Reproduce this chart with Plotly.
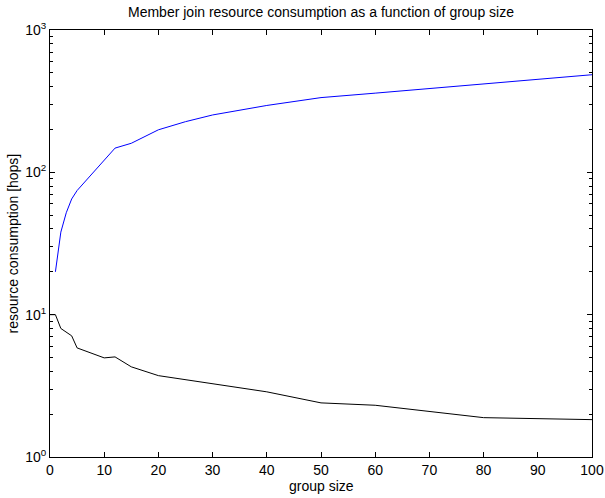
import plotly.graph_objects as go

# group sizes and series
blue_x = [1, 2, 3, 4, 5, 10, 12, 15, 20, 25, 30, 40, 50, 60, 80, 100]
blue_y = [20, 38, 52, 65, 74.5, 122, 148, 160, 199, 227, 253, 295, 335, 360, 420, 485]

black_x = [0, 1, 2, 3, 4, 5, 10, 12, 15, 20, 25, 30, 40, 50, 60, 80, 100]
black_y = [10, 10, 8.0, 7.5, 7.1, 5.84, 4.97, 5.05, 4.3, 3.73, 3.49, 3.27, 2.87, 2.40, 2.31, 1.89, 1.83]

x_ticks = [0, 10, 20, 30, 40, 50, 60, 70, 80, 90, 100]
y_ticks = [1, 10, 100, 1000]
y_ticktext = ["10<sup>0</sup>", "10<sup>1</sup>", "10<sup>2</sup>", "10<sup>3</sup>"]
y_minor = [m * d for d in (1, 10, 100) for m in range(2, 10)]

title_text = "Member join resource consumption as a function of group size"
x_title = "group size"
y_title = "resource consumption [hops]"

fig = go.Figure()
fig.add_trace(go.Scatter(x=blue_x, y=blue_y, mode="lines",
                         line=dict(color="#0000ff", width=1), showlegend=False))
fig.add_trace(go.Scatter(x=black_x, y=black_y, mode="lines",
                         line=dict(color="#000000", width=1), showlegend=False))

font = dict(family="Liberation Sans, Arial, sans-serif", size=14, color="black")

W, H = 605, 498
fig.update_layout(
    width=W, height=H,
    margin=dict(l=50, r=13, t=30, b=41, autoexpand=False),
    paper_bgcolor="white", plot_bgcolor="white",
    font=font,
    title=dict(text=title_text, x=0.5, xref="paper", y=1 - 12 / H, yref="container",
               yanchor="middle", xanchor="center", font=font, automargin=False),
    annotations=[
        dict(text=x_title, xref="paper", yref="paper", x=0.5, y=0, yshift=-29,
             xanchor="center", yanchor="middle", showarrow=False, font=font),
        dict(text=y_title, xref="paper", yref="paper", x=0, y=0.5, xshift=-38,
             xanchor="center", yanchor="middle", textangle=-90, showarrow=False, font=font),
    ],
)
fig.update_xaxes(
    range=[0, 100], tickvals=x_ticks, ticks="inside", ticklen=5, tickwidth=1,
    tickcolor="black", showline=True, linecolor="black", linewidth=1,
    mirror="ticks", showgrid=False, zeroline=False, automargin=False,
    ticklabeloverflow="allow",
)
fig.update_yaxes(
    type="log", range=[0, 3], tickvals=y_ticks, ticktext=y_ticktext,
    ticks="inside", ticklen=5, tickwidth=1, tickcolor="black",
    showline=True, linecolor="black", linewidth=1, mirror="ticks",
    showgrid=False, zeroline=False, automargin=False,
    minor=dict(tickvals=y_minor, ticks="inside", ticklen=3, tickcolor="black", showgrid=False),
)

# remove the default 8px page margin so the figure fills the window exactly
fig.write_html("out.html", config={"displayModeBar": False},
               post_script="document.body.style.margin='0';")
